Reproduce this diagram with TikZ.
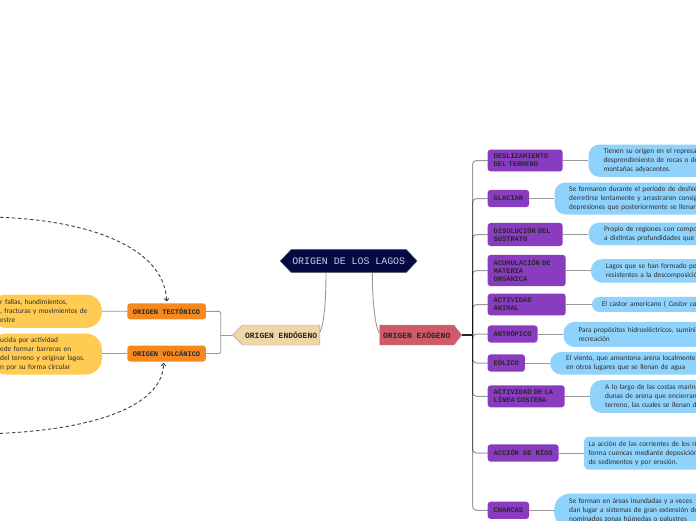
\documentclass[tikz,border=0pt]{standalone}
\usepackage{fontspec}
\setmainfont{Carlito}
\newfontfamily\monof{Liberation Mono}
\usetikzlibrary{shapes.symbols,arrows.meta}
\definecolor{navy}{HTML}{050A45}
\definecolor{purp}{HTML}{8A3CC0}
\definecolor{lblue}{HTML}{8FD3FC}
\definecolor{yel}{HTML}{FFCB52}
\definecolor{org}{HTML}{F5891F}
\definecolor{tanc}{HTML}{EED6A6}
\definecolor{rosa}{HTML}{D05A69}
\definecolor{lnk}{HTML}{9A9A9A}
\definecolor{txt}{HTML}{2E2E2E}
\definecolor{roottxt}{HTML}{C9CDE2}
\begin{document}
\begin{tikzpicture}[x=1pt,y=-1pt,
  pbox/.style={fill=purp, rounded corners=3pt, anchor=west, font=\monof\bfseries\fontsize{7}{8.2}\selectfont, text=black!85, inner xsep=6pt, inner ysep=4.5pt, minimum height=17.3pt, align=left},
  bbox/.style={fill=lblue, rounded corners=11pt, anchor=north west, font=\fontsize{7.3}{9}\selectfont, text=txt, align=left, text width=200pt, inner ysep=2pt},
  ybox/.style={fill=yel, rounded corners=16pt, anchor=north west, font=\fontsize{7.3}{9}\selectfont, text=txt, align=left, text width=91.7pt, inner xsep=10pt, inner ysep=2pt},
  obox/.style={fill=org, rounded corners=3pt, font=\monof\bfseries\fontsize{7}{8.2}\selectfont, text=black!85, minimum width=78.7pt, minimum height=16pt, inner sep=1pt},
  lnkline/.style={draw=lnk, line width=0.9pt},
  trunkline/.style={draw=black, draw opacity=0.4, line width=1pt, rounded corners=4pt},
  dasharrow/.style={draw=black!75, line width=0.9pt, dash pattern=on 3.5pt off 2.5pt, -{Straight Barb[length=2.5pt,width=4.5pt]}}
]
\path[use as bounding box] (0,0) rectangle (696,520);
\fill[white] (0,0) rectangle (696,520);
\clip (0,0) rectangle (696,520);

% central nodes
\node[signal, signal to=east and west, signal pointer angle=93, fill=navy, draw=black!60, line width=0.4pt,
  minimum width=136pt, minimum height=23.3pt, inner sep=1pt, text=roottxt, font=\monof\fontsize{9.9}{11}\selectfont] (root) at (348.7,261) {ORIGEN DE LOS LAGOS};
\node[signal, signal to=west, signal pointer angle=90, fill=tanc, draw=black!35, line width=0.4pt,
  minimum width=87.3pt, minimum height=20pt, inner sep=1pt, text=black!85, font=\monof\bfseries\fontsize{8}{9}\selectfont, anchor=east] (endo) at (320,335) {ORIGEN ENDÓGENO};
\node[signal, signal to=east, signal pointer angle=103, fill=rosa, draw=black!35, line width=0.4pt,
  minimum width=82.4pt, minimum height=20pt, inner sep=1pt, text=black!85, font=\monof\bfseries\fontsize{8}{9}\selectfont, anchor=west] (exo) at (379.3,335) {ORIGEN EXÓGENO};

\draw[lnkline] (root.south -| 326,0) .. controls (326,300) and (324,325) .. ([yshift=3pt]endo.east);
\draw[lnkline] (root.south -| 372.3,0) .. controls (372.3,300) and (375,326) .. ([yshift=2pt]exo.west);

% right side
\coordinate (J) at (472.5,335);
\node[pbox, text width=63pt] (p1) at (487.5,160.5) {DESLIZAMIENTO\\DEL TERRENO};
\node[pbox] (p2) at (487.5,198.5) {GLACIAR};
\node[pbox, text width=63pt] (p3) at (487.5,234.5) {DISOLUCIÓN DEL\\SUSTRATO};
\node[pbox, text width=66pt] (p4) at (487.5,270.5) {ACUMULACIÓN DE\\MATERIA\\ORGÁNICA};
\node[pbox, text width=66pt] (p5) at (487.5,304.5) {ACTIVIDAD\\ANIMAL};
\node[pbox] (p6) at (487.5,334) {ANTRÓPICO};
\node[pbox] (p7) at (487.5,363) {EÓLICO};
\node[pbox, text width=65pt] (p8) at (487.5,396.3) {ACTIVIDAD DE LA\\LÍNEA COSTERA};
\node[pbox] (p9) at (487.5,453) {ACCIÓN DE RÍOS};
\node[pbox] (p10) at (487.5,510.3) {CHARCAS};

\foreach \p in {p1,p2,p3,p4,p5,p6,p7,p8,p9,p10}{
  \draw[trunkline] (J) |- (\p.west);
}
\draw[draw=black!85, line width=1.4pt] (exo.east) -- (J);

\node[bbox, inner xsep=15pt, minimum height=32.4pt] (b1) at (588.3,144.3) {Tienen su origen en el represamiento\\desprendimiento de rocas o de\\montañas adyacentes.};
\node[bbox, inner xsep=14.7pt, minimum height=32pt] (b2) at (554.3,182.3) {Se formaron durante el período de deshielo\\derretirse lentamente y arrastraron consigo\\depresiones que posteriormente se llenaron};
\node[bbox, inner xsep=15.7pt, minimum height=22.7pt] (b3) at (588.3,222.3) {Propio de regiones con composición\\a distintas profundidades que se};
\node[bbox, inner xsep=15pt, minimum height=23.3pt] (b4) at (590.7,259) {Lagos que se han formado por\\resistentes a la descomposición};
\node[bbox, inner xsep=10pt, minimum height=15pt, rounded corners=7.5pt] (b5) at (591.7,296.7) {El castor americano ( \textit{Castor canadensis})};
\node[bbox, inner xsep=15pt, minimum height=25pt] (b6) at (563.3,321.7) {Para propósitos hidroeléctricos, suministro\\recreación};
\node[bbox, inner xsep=16pt, minimum height=22.6pt] (b7) at (550,351.7) {El viento, que amontona arena localmente forma\\en otros lugares que se llenan de agua};
\node[bbox, inner xsep=15pt, minimum height=32.7pt] (b8) at (590,380) {A lo largo de las costas marinas, el\\dunas de arena que encierran porciones\\terreno, las cuales se llenan de};
\node[bbox, inner xsep=4.3pt, minimum height=32.6pt, rounded corners=4pt] (b9) at (584,436.7) {La acción de las corrientes de los ríos\\forma cuencas mediante deposición\\de sedimentos y por erosión.};
\node[bbox, inner xsep=15pt, minimum height=34.8pt, rounded corners=16pt] (b10) at (554,493.3) {Se forman en áreas inundadas y a veces\\dan lugar a sistemas de gran extensión de\\nominados zonas húmedas o palustres};

\foreach \i in {1,...,10}{
  \draw[lnkline] (p\i.east) -- (p\i.east -| b\i.west);
}

% left side
\coordinate (L) at (220.7,335);
\node[obox] (tect) at (166.6,311.3) {ORIGEN TECTÓNICO};
\node[obox] (volc) at (166.6,353.5) {ORIGEN VOLCÁNICO};
\draw[lnkline] (endo.west) -- (L);
\draw[lnkline, rounded corners=2pt] (L) |- (tect.east);
\draw[lnkline, rounded corners=2pt] (L) |- (volc.east);

\node[ybox, minimum height=33.4pt] (y1) at (-10,294.3) {r fallas, hundimientos,\\, fracturas y movimientos de\\estre};
\node[ybox, minimum height=41pt] (y2) at (-10,333.3) {ucida por actividad\\ede formar barreras en\\del terreno y originar lagos.\\n por su forma circular};
\draw[lnkline] (y1.east) -- (tect.west);
\draw[lnkline] (y2.east |- volc.west) -- (volc.west);

\coordinate (s1) at (-30,217);
\coordinate (s2) at (-30,434);
\draw[dasharrow] (s1) .. controls (80,215) and (165,245) .. ([yshift=1.5pt]tect.north);
\draw[dasharrow] (s2) .. controls (80,434) and (163,410) .. ([xshift=-3pt,yshift=-1pt]volc.south);
\end{tikzpicture}
\end{document}
